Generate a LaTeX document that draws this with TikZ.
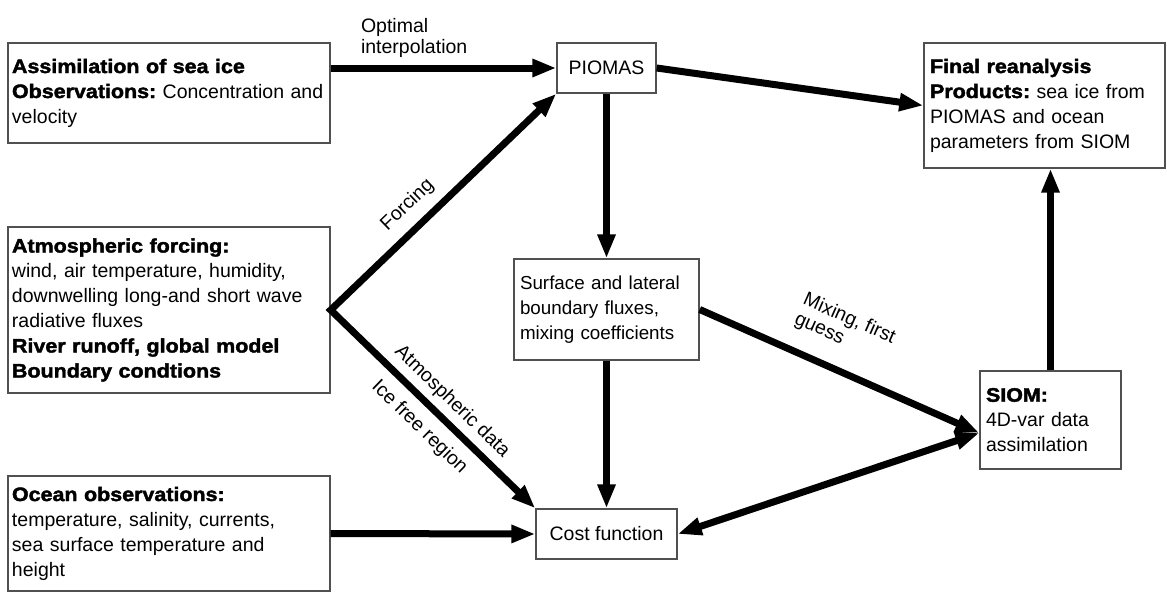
\documentclass[tikz,border=0pt]{standalone}
\usepackage{fontspec}
\usepackage{xcolor}
\setmainfont{Liberation Sans}
\newfontfamily\heavyfont{Liberation Sans Bold}[FakeStretch=1.1,FakeBold=2]
\newcommand{\hd}[1]{{\heavyfont #1}}
\definecolor{boxgray}{RGB}{80,80,80}
\usetikzlibrary{arrows.meta,positioning,calc}
\frenchspacing

\begin{document}
\begin{tikzpicture}[
  x=1pt, y=-1pt,
  >={Triangle[length=24pt,width=17pt]},
  every node/.style={font=\fontsize{19.5}{25}\selectfont},
  box/.style={rectangle, draw=boxgray, line width=1.4pt,
    inner xsep=6pt, inner ysep=0pt, align=left},
  arr/.style={->, line width=7pt, line join=miter},
  lbl/.style={font=\fontsize{19.5}{21}\selectfont, inner sep=2pt},
]
\useasboundingbox (0,0) rectangle (1167,592);

% Input boxes
\node[box, inner xsep=4pt, text width=314pt, minimum height=100pt] (seaice) at (169,93)
  {\hd{Assimilation of sea ice}\\ \hd{Observations:} Concentration~and\\ velocity};

\node[box, inner xsep=4pt, text width=314pt, minimum height=166pt] (atmos) at (169,310)
  {\hd{Atmospheric forcing:}\\ wind, air temperature, humidity,\\
   downwelling long-and short wave\\ radiative fluxes\\
   \hd{River runoff, global model}\\ \hd{Boundary condtions}};

\node[box, inner xsep=4pt, text width=314pt, minimum height=115pt] (ocean) at (169,533.5)
  {\hd{Ocean observations:}\\ temperature, salinity, currents,\\
   sea surface temperature and\\ height};

% Model boxes
\node[box, align=center, minimum width=99pt, minimum height=50pt] (piomas) at (606.5,68) {PIOMAS};

\node[box, text width=173pt, minimum height=101pt, font=\fontsize{18.8}{25}\selectfont] (surface) at (606.5,309.5)
  {Surface and lateral\\ boundary fluxes,\\ mixing coefficients};

\node[box, align=center, minimum width=141pt, minimum height=50pt] (cost) at (606.5,534) {Cost function};

\node[box, text width=129pt, minimum height=98pt] (siom) at (1050.5,420)
  {\hd{SIOM:}\\ 4D-var data\\ assimilation};

\node[box, text width=229pt, minimum height=125pt] (final) at (1044.5,105.5)
  {\hd{Final reanalysis}\\ \hd{Products:} sea ice~from\\ PIOMAS and ocean\\ parameters from SIOM};

\coordinate (siomin) at ([yshift=-13pt]siom.west);

% Arrows
\draw[arr] (seaice.east |- piomas.west) --
  node[lbl, above=5pt, pos=0.37, align=left] {Optimal\\interpolation} (piomas.west);
\draw[arr] (piomas.east) -- (final.west);
\draw[arr] (piomas.south) -- (surface.north);
\draw[arr] (surface.south) -- (cost.north);
\draw[arr] (ocean.east) -- (cost.west);
\draw[arr, <->] (piomas.south west) --
  node[lbl, sloped, above=8pt, pos=0.59] {Forcing} (atmos.east) --
  node[lbl, sloped, above=4pt, pos=0.53] {Atmospheric data}
  node[lbl, sloped, below=8pt, pos=0.51] {Ice free region} (cost.north west);
\draw[arr] (surface.east) --
  node[lbl, sloped, above=16pt, pos=0.46, align=left] {Mixing, first\\guess} (siomin);
\draw[arr, <->] (cost.east) -- (siomin);
\draw[arr] (siom.north) -- (siom.north |- final.south);

\end{tikzpicture}
\end{document}
